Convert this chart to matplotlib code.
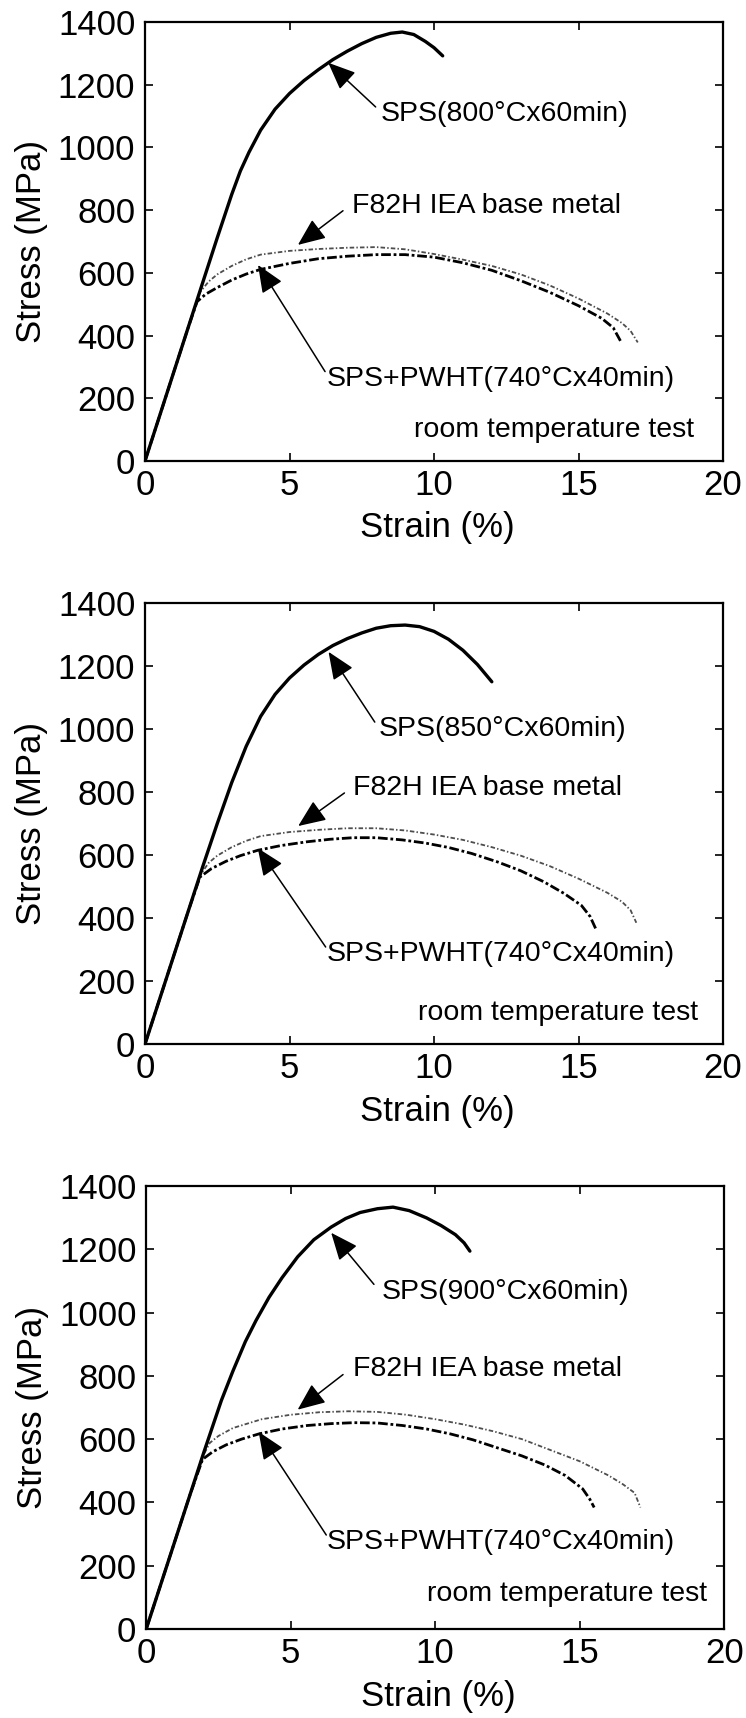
import matplotlib
matplotlib.use("Agg")
import matplotlib.pyplot as plt
from matplotlib import font_manager

# ---- data (strain %, stress MPa) ----
# panel 1 : SPS 800 C
strain_sps800 = [0, 1.0, 2.0, 2.5, 3.0, 3.3, 3.6, 4.0, 4.5, 5.0, 5.5, 6.0, 6.5, 7.0, 7.5, 8.0, 8.5, 8.9, 9.3, 9.7, 10.0, 10.3]
stress_sps800 = [0, 285, 570, 712, 850, 925, 985, 1055, 1122, 1172, 1213, 1248, 1280, 1307, 1331, 1351, 1364, 1368, 1360, 1338, 1318, 1292]
strain_base1 = [0, 0.5, 1.0, 1.5, 1.9, 2.2, 2.5, 3.0, 3.5, 4.0, 5.0, 6.0, 7.0, 8.0, 9.0, 10.0, 11.0, 12.0, 13.0, 14.0, 15.0, 16.0, 16.5, 16.8, 17.05]
stress_base1 = [0, 142, 285, 427, 538, 572, 595, 622, 643, 658, 670, 676, 680, 682, 675, 660, 642, 622, 595, 560, 518, 470, 440, 415, 378]
strain_pwht1 = [0, 0.5, 1.0, 1.5, 1.8, 2.1, 2.5, 3.0, 3.5, 4.0, 5.0, 6.0, 7.0, 8.0, 9.0, 10.0, 11.0, 12.0, 13.0, 14.0, 15.0, 15.8, 16.2, 16.45]
stress_pwht1 = [0, 142, 285, 427, 508, 532, 553, 577, 596, 611, 630, 645, 653, 658, 658, 650, 632, 608, 575, 538, 495, 455, 425, 383]

# panel 2 : SPS 850 C
strain_sps850 = [0, 1.0, 2.0, 2.5, 3.0, 3.5, 4.0, 4.5, 5.0, 5.5, 6.0, 6.5, 7.0, 7.5, 8.0, 8.5, 9.0, 9.5, 10.0, 10.5, 11.0, 11.5, 12.0]
stress_sps850 = [0, 282, 564, 700, 830, 945, 1040, 1110, 1162, 1203, 1237, 1265, 1287, 1305, 1320, 1328, 1330, 1325, 1310, 1285, 1250, 1205, 1150]
strain_base2 = [0, 0.5, 1.0, 1.5, 1.9, 2.2, 2.5, 3.0, 3.5, 4.0, 5.0, 6.0, 7.0, 8.0, 9.0, 10.0, 11.0, 12.0, 13.0, 14.0, 15.0, 16.0, 16.5, 16.8, 17.0]
stress_base2 = [0, 141, 282, 423, 535, 575, 598, 625, 645, 660, 673, 680, 685, 685, 678, 665, 648, 625, 598, 565, 525, 480, 452, 425, 385]
strain_pwht2 = [0, 0.5, 1.0, 1.5, 1.9, 2.3, 2.8, 3.3, 3.9, 4.7, 5.6, 6.4, 7.2, 8.0, 8.9, 9.7, 10.5, 11.3, 12.2, 13.0, 13.8, 14.5, 15.1, 15.4, 15.6]
stress_pwht2 = [0, 141, 282, 423, 530, 557, 580, 598, 615, 630, 642, 650, 655, 655, 648, 638, 624, 605, 578, 550, 515, 478, 440, 405, 365]

# panel 3 : SPS 900 C
strain_sps900 = [0, 1.0, 2.0, 2.6, 3.0, 3.43, 3.8, 4.25, 4.7, 5.24, 5.8, 6.4, 6.9, 7.4, 8.0, 8.54, 9.1, 9.7, 10.2, 10.7, 11.0, 11.2]
stress_sps900 = [0, 280, 560, 722, 815, 908, 975, 1048, 1110, 1176, 1230, 1270, 1297, 1316, 1328, 1333, 1322, 1299, 1275, 1246, 1220, 1194]
strain_base3 = [0, 0.5, 1.0, 1.5, 1.9, 2.2, 2.5, 3.0, 4.0, 5.0, 6.0, 7.0, 8.0, 9.0, 10.0, 11.0, 12.0, 13.0, 14.0, 15.0, 16.0, 16.5, 16.9, 17.1]
stress_base3 = [0, 140, 280, 420, 535, 588, 610, 635, 663, 677, 685, 688, 686, 677, 663, 646, 625, 600, 565, 530, 485, 457, 430, 384]
strain_pwht3 = [0, 0.5, 1.0, 1.5, 1.95, 2.3, 2.77, 3.3, 3.92, 4.7, 5.57, 6.4, 7.2, 8.0, 8.87, 9.7, 10.5, 11.3, 12.2, 13.0, 13.8, 14.5, 15.1, 15.35, 15.5]
stress_pwht3 = [0, 140, 280, 420, 536, 560, 582, 600, 617, 632, 643, 649, 652, 651, 643, 632, 617, 598, 571, 547, 518, 485, 443, 410, 384]

sps_labels = ["SPS(800°Cx60min)", "SPS(850°Cx60min)", "SPS(900°Cx60min)"]
base_label = "F82H IEA base metal"
pwht_label = "SPS+PWHT(740°Cx40min)"
note_label = "room temperature test"

xticks = [0, 5, 10, 15, 20]
yticks = [0, 200, 400, 600, 800, 1000, 1200, 1400]

panels = [
    (strain_sps800, stress_sps800, strain_base1, stress_base1, strain_pwht1, stress_pwht1),
    (strain_sps850, stress_sps850, strain_base2, stress_base2, strain_pwht2, stress_pwht2),
    (strain_sps900, stress_sps900, strain_base3, stress_base3, strain_pwht3, stress_pwht3),
]

# label / arrow placement per panel: (text xy, arrow tip, arrow tail)
sps_notes = [((8.15, 1106), (6.34, 1270), (7.98, 1129)),
             ((8.1, 1000), (6.35, 1245), (7.95, 1022)),
             ((8.13, 1066), (6.4, 1252), (7.88, 1089))]
base_notes = [((7.16, 812), (5.29, 689), (6.85, 798)),
              ((7.2, 812), (5.3, 692), (6.9, 797)),
              ((7.14, 821), (5.24, 693), (6.81, 804))]
pwht_notes = [((6.3, 262), (3.91, 625), (6.23, 285)),
              ((6.3, 285), (3.9, 622), (6.25, 308)),
              ((6.23, 274), (3.89, 623), (6.23, 297))]
note_pos = [(9.3, 100), (9.45, 100), (9.7, 111)]

names = {f.name for f in font_manager.fontManager.ttflist}
family = "Liberation Sans" if "Liberation Sans" in names else "DejaVu Sans"
plt.rcParams["font.family"] = [family, "DejaVu Sans"]

fig = plt.figure(figsize=(7.46, 17.18), dpi=100)
rects = [[0.1944, 0.7317, 0.7748, 0.2555],
         [0.1944, 0.3923, 0.7748, 0.2567],
         [0.1960, 0.0518, 0.7748, 0.2579]]

arrow = dict(arrowstyle="-|>,head_length=0.85,head_width=0.36",
             color="black", lw=1.1, shrinkA=0, shrinkB=0)

for i, (xs, ys, xb, yb, xp, yp) in enumerate(panels):
    ax = fig.add_axes(rects[i])
    ax.plot(xb, yb, color="0.3", lw=1.3, dashes=(2.5, 1.2, 0.8, 1.2))
    ax.plot(xp, yp, color="black", lw=2.0, dashes=(3.5, 1.0, 1.0, 1.0))
    ax.plot(xs, ys, color="black", lw=2.4, solid_joinstyle="round",
            solid_capstyle="round")

    ax.set_xlim(0, 20)
    ax.set_ylim(0, 1400)
    ax.set_xticks(xticks)
    ax.set_yticks(yticks)
    ax.tick_params(direction="in", length=6, width=1.2, labelsize=25,
                   top=True, right=True)
    ax.tick_params(axis="x", pad=6)
    ax.tick_params(axis="y", pad=7)
    for sp in ax.spines.values():
        sp.set_linewidth(1.6)

    ax.set_xlabel("Strain (%)", fontsize=25)
    ax.set_ylabel("Stress (MPa)", fontsize=25)
    ax.xaxis.set_label_coords(0.505, -0.115)
    ax.yaxis.set_label_coords(-0.168, 0.5)

    for label, (txt, tip, tail) in [(sps_labels[i], sps_notes[i]),
                                    (base_label, base_notes[i]),
                                    (pwht_label, pwht_notes[i])]:
        ax.annotate("", xy=tip, xytext=tail, arrowprops=arrow, fontsize=20)
        ax.text(txt[0], txt[1], label, fontsize=20.5, ha="left", va="center")
    ax.text(note_pos[i][0], note_pos[i][1], note_label, fontsize=20.5,
            ha="left", va="center")

fig.savefig("out.png", dpi=100)
